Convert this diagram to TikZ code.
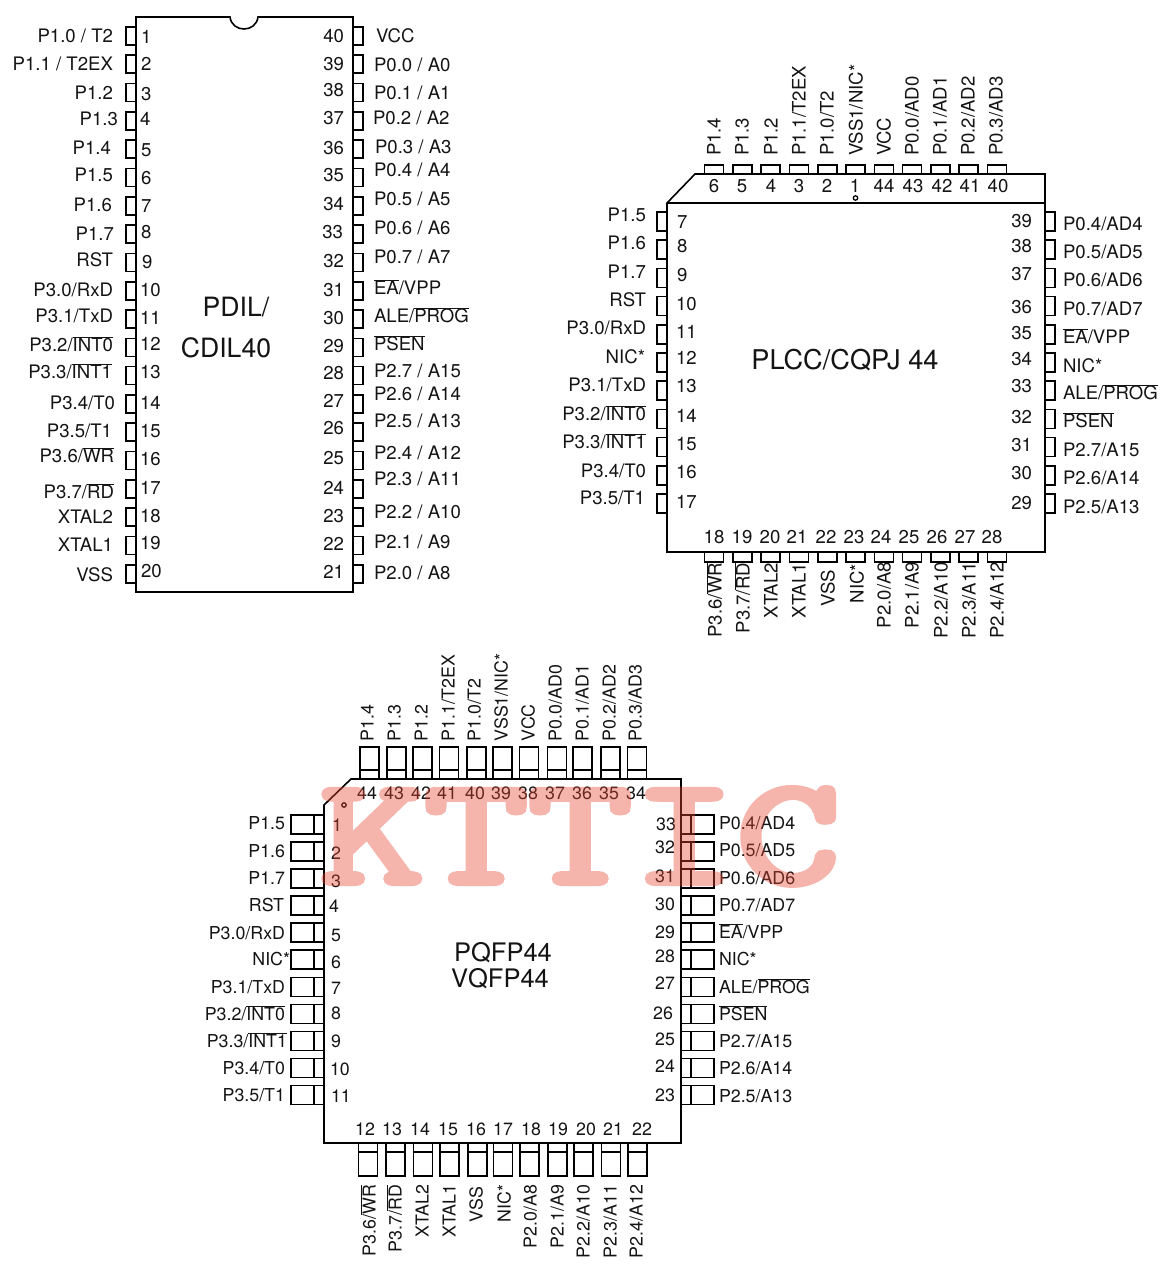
\documentclass[tikz,border=0pt]{standalone}
\usepackage{fontspec}
\setmainfont{TeX Gyre Heros}
\newfontfamily\wmf[FakeBold=4]{Latin Modern Mono}
\newcommand\ob[1]{\setbox0\hbox{#1}\rlap{\smash{\vrule width\wd0 height 14.8pt depth -13.8pt}}#1}
\definecolor{wmred}{RGB}{230,67,47}
\tikzset{
  txt/.style={font=\fontsize{18.6}{20}\selectfont,inner sep=0pt,outer sep=0pt,text height=13pt,text depth=0pt,text=black!92},
  chip/.style={draw=black,line width=1.6pt,line join=miter},
  pinbox/.style={draw=black,line width=1.6pt},
  dotmark/.style={draw=black,line width=1.3pt},
  title/.style={font=\fontsize{26.6}{28}\selectfont,inner sep=0pt,text height=18.6pt,text depth=0pt,text=black!92,anchor=center},
  wm/.style={font=\wmf\fontsize{198}{198}\selectfont,inner sep=0pt,text=wmred,anchor=base west}
}
\newcommand\lL[3]{\node[txt,anchor=east](labL-#1-#2) at (#1,#2) {#3};}
\newcommand\lR[3]{\node[txt,anchor=west](labR-#1-#2) at (#1,#2) {#3};}
\newcommand\lT[3]{\node[txt,rotate=90,anchor=west](labT-#1-#2) at (#1,#2) {#3};}
\newcommand\lB[3]{\node[txt,rotate=90,anchor=east](labB-#1-#2) at (#1,#2) {#3};}
\newcommand\nC[3]{\node[txt,anchor=center](num-#1-#2) at (#1,#2) {#3};}
\newcommand\nL[3]{\node[txt,anchor=west](num-#1-#2) at (#1,#2) {#3};}
\newcommand\nR[3]{\node[txt,anchor=east](num-#1-#2) at (#1,#2) {#3};}
\begin{document}
\begin{tikzpicture}[x=1pt,y=-1pt]
\useasboundingbox (0,0) rectangle (1167,1268);
% ===== PDIL40 =====
\begin{scope}
\foreach \k in {0,...,19}{
  \draw[pinbox] (136,{27+28.3*\k}) -- (126,{27+28.3*\k}) -- (126,{45+28.3*\k}) -- (136,{45+28.3*\k});
  \draw[pinbox] (353,{27+28.3*\k}) -- (363,{27+28.3*\k}) -- (363,{45+28.3*\k}) -- (353,{45+28.3*\k});
}
\draw[chip] (136,17) -- (230,17) .. controls (232,33) and (256,33) .. (258,17) -- (353,17) -- (353,592) -- (136,592) -- cycle;
\lL{113}{36}{P1.0 / T2}\lL{113}{64}{P1.1 / T2EX}\lL{113}{93}{P1.2}\lL{118}{119}{P1.3}\lL{111}{148}{P1.4}
\lL{113}{175}{P1.5}\lL{112}{205}{P1.6}\lL{114}{234}{P1.7}\lL{113}{260}{RST}\lL{113}{290}{P3.0/RxD}
\lL{113}{316}{P3.1/TxD}\lL{113}{345}{P3.2/\ob{INT0}}\lL{112}{372}{P3.3/\ob{INT1}}\lL{115}{403}{P3.4/T0}\lL{112}{431}{P3.5/T1}
\lL{114}{456}{P3.6/\ob{WR}}\lL{114}{492}{P3.7/\ob{RD}}\lL{113}{517}{XTAL2}\lL{113}{545}{XTAL1}\lL{113}{575}{VSS}
\nL{141}{37}{1}\nL{141}{64}{2}\nL{141}{94}{3}\nL{140}{119}{4}\nL{141}{150}{5}\nL{141}{178}{6}\nL{141}{206}{7}\nL{141}{232}{8}\nL{142}{262}{9}
\nL{140}{290}{10}\nL{140}{318}{11}\nL{140}{344}{12}\nL{140}{372}{13}\nL{140}{403}{14}\nL{140}{431}{15}\nL{140}{459}{16}\nL{140}{488}{17}\nL{140}{516}{18}\nL{140}{543}{19}\nL{141}{571}{20}
\nR{344}{36}{40}\nR{344}{64}{39}\nR{344}{90}{38}\nR{344}{118}{37}\nR{344}{148}{36}\nR{344}{175}{35}\nR{344}{204}{34}\nR{343}{232}{33}\nR{344}{261}{32}\nR{344}{290}{31}
\nR{344}{318}{30}\nR{344}{346}{29}\nR{344}{373}{28}\nR{344}{401}{27}\nR{344}{428}{26}\nR{344}{458}{25}\nR{344}{488}{24}\nR{344}{516}{23}\nR{344}{544}{22}\nR{344}{572}{21}
\lR{376}{36}{VCC}\lR{374}{65}{P0.0 / A0}\lR{374}{93}{P0.1 / A1}\lR{373}{118}{P0.2 / A2}\lR{375}{147}{P0.3 / A3}\lR{374}{170}{P0.4 / A4}\lR{374}{199}{P0.5 / A5}\lR{374}{228}{P0.6 / A6}\lR{374}{257}{P0.7 / A7}
\lR{374}{288}{\ob{EA}/VPP}\lR{374}{316}{ALE/\ob{PROG}}\lR{374}{344}{\ob{PSEN}}\lR{374}{371}{P2.7 / A15}\lR{374}{394}{P2.6 / A14}\lR{374}{421}{P2.5 / A13}\lR{374}{453}{P2.4 / A12}\lR{374}{479}{P2.3 / A11}\lR{374}{512}{P2.2 / A10}\lR{374}{542}{P2.1 / A9}\lR{374}{573}{P2.0 / A8}
\node[title](pdil1) at (236,307) {PDIL/};
\node[title](pdil2) at (226,348) {CDIL40};
\end{scope}
% ===== PLCC44 =====
\begin{scope}
\foreach \k in {0,...,10}{
  \draw[pinbox] ({704.5+28.3*\k},174) -- ({704.5+28.3*\k},165) -- ({723.5+28.3*\k},165) -- ({723.5+28.3*\k},174);
  \draw[pinbox] ({704.5+28.3*\k},552) -- ({704.5+28.3*\k},562) -- ({723.5+28.3*\k},562) -- ({723.5+28.3*\k},552);
  \draw[pinbox] (667,{212+28.2*\k}) -- (657,{212+28.2*\k}) -- (657,{231+28.2*\k}) -- (667,{231+28.2*\k});
  \draw[pinbox] (1045,{212+28.2*\k}) -- (1055,{212+28.2*\k}) -- (1055,{231+28.2*\k}) -- (1045,{231+28.2*\k});
}
\draw[chip] (695,174) -- (1045,174) -- (1045,552) -- (667,552) -- (667,203) -- cycle;
\draw[chip] (667,203) -- (1045,203);
\draw[dotmark] (855.5,198) circle (2.2);
\lT{714}{156}{P1.4}\lT{742}{156}{P1.3}\lT{771}{156}{P1.2}\lT{799}{156}{P1.1/T2EX}\lT{827}{156}{P1.0/T2}\lT{856}{156}{VSS1/NIC*}\lT{884}{156}{VCC}\lT{912}{156}{P0.0/AD0}\lT{940}{156}{P0.1/AD1}\lT{968}{156}{P0.2/AD2}\lT{996}{156}{P0.3/AD3}
\nC{714}{186}{6}\nC{742}{186}{5}\nC{771}{186}{4}\nC{799}{186}{3}\nC{827}{186}{2}\nC{855}{186}{1}\nC{884}{186}{44}\nC{913}{186}{43}\nC{942}{186}{42}\nC{970}{186}{41}\nC{998}{186}{40}
\lL{646}{215}{P1.5}\lL{646}{243}{P1.6}\lL{646}{272}{P1.7}\lL{646}{300}{RST}\lL{646}{328}{P3.0/RxD}\lL{645}{357}{NIC*}\lL{646}{385}{P3.1/TxD}\lL{646}{414}{P3.2/\ob{INT0}}\lL{646}{442}{P3.3/\ob{INT1}}\lL{646}{471}{P3.4/T0}\lL{645}{498}{P3.5/T1}
\nL{677}{222}{7}\nL{677}{246}{8}\nL{677}{275}{9}\nL{676}{304}{10}\nL{676}{332}{11}\nL{676}{358}{12}\nL{676}{386}{13}\nL{676}{416}{14}\nL{676}{444}{15}\nL{676}{472}{16}\nL{676}{502}{17}
\nR{1032}{221}{39}\nR{1032}{246}{38}\nR{1032}{274}{37}\nR{1032}{307}{36}\nR{1032}{333}{35}\nR{1032}{359}{34}\nR{1032}{386}{33}\nR{1032}{417}{32}\nR{1032}{445}{31}\nR{1032}{473}{30}\nR{1032}{503}{29}
\lR{1063}{224}{P0.4/AD4}\lR{1063}{252}{P0.5/AD5}\lR{1063}{280}{P0.6/AD6}\lR{1063}{309}{P0.7/AD7}\lR{1063}{337}{\ob{EA}/VPP}\lR{1063}{366}{NIC*}\lR{1063}{393}{ALE/\ob{PROG}}\lR{1063}{421}{\ob{PSEN}}\lR{1063}{450}{P2.7/A15}\lR{1063}{478}{P2.6/A14}\lR{1063}{507}{P2.5/A13}
\nC{714}{537}{18}\nC{742}{537}{19}\nC{770}{537}{20}\nC{797}{537}{21}\nC{826}{537}{22}\nC{854}{537}{23}\nC{881}{537}{24}\nC{909}{537}{25}\nC{937}{537}{26}\nC{965}{537}{27}\nC{992}{537}{28}
\lB{715}{563}{P3.6/\ob{WR}}\lB{743}{563}{P3.7/\ob{RD}}\lB{771}{563}{XTAL2}\lB{799}{563}{XTAL1}\lB{828}{570}{VSS}\lB{857}{564}{NIC*}\lB{884}{562}{P2.0/A8}\lB{912}{562}{P2.1/A9}\lB{941}{562}{P2.2/A10}\lB{969}{562}{P2.3/A11}\lB{997}{562}{P2.4/A12}
\node[title,font=\fontsize{27.2}{28}\selectfont](plcc) at (845,360) {PLCC/CQPJ 44};
\end{scope}
% ===== PQFP44 =====
\begin{scope}
\tikzset{txt/.append style={font=\fontsize{17.8}{20}\selectfont}}
\foreach \c in {369.5,396.5,422.5,449,476.5,502.5,529,557,582.5,610.5,637}{
  \draw[pinbox] ({\c-9.5},747) rectangle ({\c+9.5},779);
  \draw[pinbox] ({\c-9.5},770) -- ({\c+9.5},770);
}
\foreach \c in {368,395.5,423,449.5,477.5,503,529.5,557.5,583.5,611,637.5}{
  \draw[pinbox] ({\c-9.5},1143) rectangle ({\c+9.5},1176);
  \draw[pinbox] ({\c-9.5},1152) -- ({\c+9.5},1152);
}
\foreach \k in {0,...,10}{
  \draw[pinbox] (291,{815+27.05*\k}) rectangle (324,{834+27.05*\k});
  \draw[pinbox] (314,{815+27.05*\k}) -- (314,{834+27.05*\k});
  \draw[pinbox] (681,{815+27.05*\k}) rectangle (714,{834+27.05*\k});
  \draw[pinbox] (691,{815+27.05*\k}) -- (691,{834+27.05*\k});
}
\draw[chip] (351,779) -- (681,779) -- (681,1143) -- (324,1143) -- (324,805) -- cycle;
\draw[dotmark] (344,805) circle (2.2);
\lT{367}{741}{P1.4}\lT{394}{741}{P1.3}\lT{421}{741}{P1.2}\lT{448}{741}{P1.1/T2EX}\lT{474}{741}{P1.0/T2}\lT{501}{741}{VSS1/NIC*}\lT{528}{741}{VCC}\lT{555}{741}{P0.0/AD0}\lT{582}{741}{P0.1/AD1}\lT{609}{741}{P0.2/AD2}\lT{635}{741}{P0.3/AD3}
\nC{367}{793}{44}\nC{394}{793}{43}\nC{421}{793}{42}\nC{447}{793}{41}\nC{475}{793}{40}\nC{501}{793}{39}\nC{528}{793}{38}\nC{555}{793}{37}\nC{582}{793}{36}\nC{609}{793}{35}\nC{636}{793}{34}
\lL{285}{823}{P1.5}\lL{285}{851}{P1.6}\lL{285}{878}{P1.7}\lL{284}{905}{RST}\lL{285}{933}{P3.0/RxD}\lL{290}{959}{NIC*}\lL{285}{987}{P3.1/TxD}\lL{285}{1014}{P3.2/\ob{INT0}}\lL{287}{1041}{P3.3/\ob{INT1}}\lL{285}{1068}{P3.4/T0}\lL{285}{1095}{P3.5/T1}
\nL{332}{825}{1}\nL{331}{853}{2}\nL{331}{881}{3}\nL{329}{906}{4}\nL{331}{935}{5}\nL{331}{962}{6}\nL{331}{988}{7}\nL{331}{1013}{8}\nL{331}{1041}{9}\nL{330}{1069}{10}\nL{331}{1096}{11}
\nR{676}{824}{33}\nR{675}{847}{32}\nR{675}{876}{31}\nR{675}{904}{30}\nR{675}{932}{29}\nR{675}{956}{28}\nR{675}{983}{27}\nR{673}{1013}{26}\nR{675}{1039}{25}\nR{675}{1066}{24}\nR{675}{1095}{23}
\lR{719}{823}{P0.4/AD4}\lR{719}{850}{P0.5/AD5}\lR{719}{878}{P0.6/AD6}\lR{719}{905}{P0.7/AD7}\lR{719}{932}{\ob{EA}/VPP}\lR{719}{959}{NIC*}\lR{719}{987}{ALE/\ob{PROG}}\lR{719}{1014}{\ob{PSEN}}\lR{719}{1041}{P2.7/A15}\lR{719}{1068}{P2.6/A14}\lR{719}{1096}{P2.5/A13}
\nC{365}{1129}{12}\nC{392}{1129}{13}\nC{420}{1129}{14}\nC{448}{1129}{15}\nC{476}{1129}{16}\nC{503}{1129}{17}\nC{531}{1129}{18}\nC{558}{1129}{19}\nC{586}{1129}{20}\nC{613}{1129}{21}\nC{642}{1129}{22}
\lB{369}{1185}{P3.6/\ob{WR}}\lB{395}{1185}{P3.7/\ob{RD}}\lB{422}{1185}{XTAL2}\lB{449}{1185}{XTAL1}\lB{476}{1187}{VSS}\lB{504}{1185}{NIC*}\lB{530}{1185}{P2.0/A8}\lB{557}{1185}{P2.1/A9}\lB{583}{1185}{P2.2/A10}\lB{610}{1185}{P2.3/A11}\lB{636}{1185}{P2.4/A12}
\node[title,font=\fontsize{25.5}{28}\selectfont](pq1) at (503,952) {PQFP44};
\node[title,font=\fontsize{25.5}{28}\selectfont](pq2) at (500,978) {VQFP44};
\end{scope}
% ===== watermark =====
\begin{scope}[transparency group,opacity=.4]
\node[wm](kttic) at (320,883) {\scalebox{1.02}[.77]{KTTIC}};
\end{scope}
\end{tikzpicture}
\end{document}
